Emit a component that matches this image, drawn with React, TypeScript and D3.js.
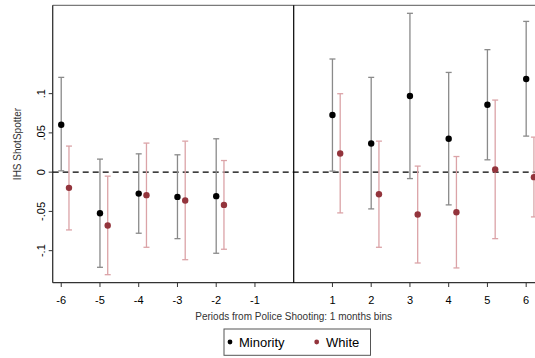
import React from "react";
import * as d3 from "d3";

const periods = [-6, -5, -4, -3, -2, 1, 2, 3, 4, 5, 6];
const minorityEst = [0.0603, -0.0523, -0.0273, -0.0315, -0.0306, 0.0727, 0.0365, 0.0969, 0.0425, 0.0858, 0.1186];
const minorityLo = [0.0017, -0.1212, -0.0778, -0.0847, -0.1033, 0.0013, -0.0468, -0.0082, -0.0417, 0.0157, 0.0459];
const minorityHi = [0.1207, 0.0166, 0.0233, 0.0221, 0.0425, 0.1441, 0.1207, 0.2023, 0.127, 0.156, 0.192];
const whiteEst = [-0.02, -0.068, -0.0293, -0.0362, -0.0417, 0.0237, -0.0281, -0.054, -0.051, 0.0033, -0.0064];
const whiteLo = [-0.0736, -0.1306, -0.0957, -0.1115, -0.0982, -0.0519, -0.0957, -0.1157, -0.122, -0.0847, -0.057];
const whiteHi = [0.0332, -0.0051, 0.037, 0.0395, 0.0148, 0.0999, 0.0395, 0.0077, 0.0199, 0.0918, 0.0446];
const xTicks = [-6, -5, -4, -3, -2, -1, 1, 2, 3, 4, 5, 6];
const yTicks = [0.1, 0.05, 0, -0.05, -0.1];
const yTickLabels = [".1", ".05", "0", "-.05", "-.1"];

const font = "'Liberation Sans', Arial, sans-serif";

export default function App() {
  const x = d3.scaleLinear().domain([-6.22, 6.22]).range([52.7, 534.7]);
  const y = d3.scaleLinear().domain([0.2125, -0.1408]).range([5.3, 282.7]);
  const offset = 0.2;
  const cap = 3;

  const series = [
    { est: minorityEst, lo: minorityLo, hi: minorityHi, dx: 0, pt: "#000000", ci: "#8a8a8a" },
    { est: whiteEst, lo: whiteLo, hi: whiteHi, dx: offset, pt: "#93343c", ci: "#dba3a7" },
  ];

  return (
    <svg width={535} height={358} style={{ position: "absolute", left: 0, top: 0, background: "#fff" }}>
      <rect x={0} y={0} width={535} height={358} fill="#fff" />
      {/* frame */}
      <line x1={x.range()[0]} x2={535} y1={5.3} y2={5.3} stroke="#7a7a7a" strokeWidth={1.3} />
      <line x1={x.range()[0]} x2={x.range()[0]} y1={5.3} y2={282.7} stroke="#333" strokeWidth={1.3} />
      <line x1={x.range()[0]} x2={535} y1={282.7} y2={282.7} stroke="#333" strokeWidth={1.3} />
      {/* zero lines */}
      <line x1={x(0)} x2={x(0)} y1={5.3} y2={282.7} stroke="#000" strokeWidth={1.2} />
      <line x1={x.range()[0]} x2={535} y1={y(0)} y2={y(0)} stroke="#000" strokeWidth={1.2} strokeDasharray="6,4" />
      {/* y ticks */}
      {yTicks.map((t, i) => (
        <g key={"y" + i}>
          <line x1={x.range()[0] - 4} x2={x.range()[0]} y1={y(t)} y2={y(t)} stroke="#333" strokeWidth={1} />
          <text
            transform={`translate(${x.range()[0] - 8},${y(t)}) rotate(-90)`}
            textAnchor="middle"
            fontFamily={font}
            fontSize={11}
            fill="#000"
          >
            {yTickLabels[i]}
          </text>
        </g>
      ))}
      <text
        transform={`translate(21,144) rotate(-90)`}
        textAnchor="middle"
        fontFamily={font}
        fontSize={10}
        fill="#333"
      >
        IHS ShotSpotter
      </text>
      {/* x ticks */}
      {xTicks.map((t) => (
        <g key={"x" + t}>
          <line x1={x(t)} x2={x(t)} y1={282.7} y2={287} stroke="#333" strokeWidth={1} />
          <text x={x(t)} y={304} textAnchor="middle" fontFamily={font} fontSize={11} fill="#000">
            {t}
          </text>
        </g>
      ))}
      <text x={x(0)} y={319.5} textAnchor="middle" fontFamily={font} fontSize={10} fill="#333">
        Periods from Police Shooting: 1 months bins
      </text>
      {/* series */}
      {series.map((s, si) => (
        <g key={"s" + si}>
          {periods.map((p, i) => {
            const cx = x(p + s.dx);
            return (
              <g key={i}>
                <line x1={cx} x2={cx} y1={y(s.lo[i])} y2={y(s.hi[i])} stroke={s.ci} strokeWidth={1.3} />
                <line x1={cx - cap} x2={cx + cap} y1={y(s.lo[i])} y2={y(s.lo[i])} stroke={s.ci} strokeWidth={1.3} />
                <line x1={cx - cap} x2={cx + cap} y1={y(s.hi[i])} y2={y(s.hi[i])} stroke={s.ci} strokeWidth={1.3} />
              </g>
            );
          })}
          {periods.map((p, i) => (
            <circle key={"c" + i} cx={x(p + s.dx)} cy={y(s.est[i])} r={3.2} fill={s.pt} />
          ))}
        </g>
      ))}
      {/* legend */}
      <rect x={224} y={329} width={146.5} height={26.3} fill="#fff" stroke="#555" strokeWidth={1} />
      <circle cx={230} cy={342} r={2.4} fill="#000" />
      <text x={239} y={346.5} fontFamily={font} fontSize={13} fill="#000">
        Minority
      </text>
      <circle cx={316.7} cy={342} r={2.4} fill="#93343c" />
      <text x={326} y={346.5} fontFamily={font} fontSize={13} fill="#000">
        White
      </text>
    </svg>
  );
}
